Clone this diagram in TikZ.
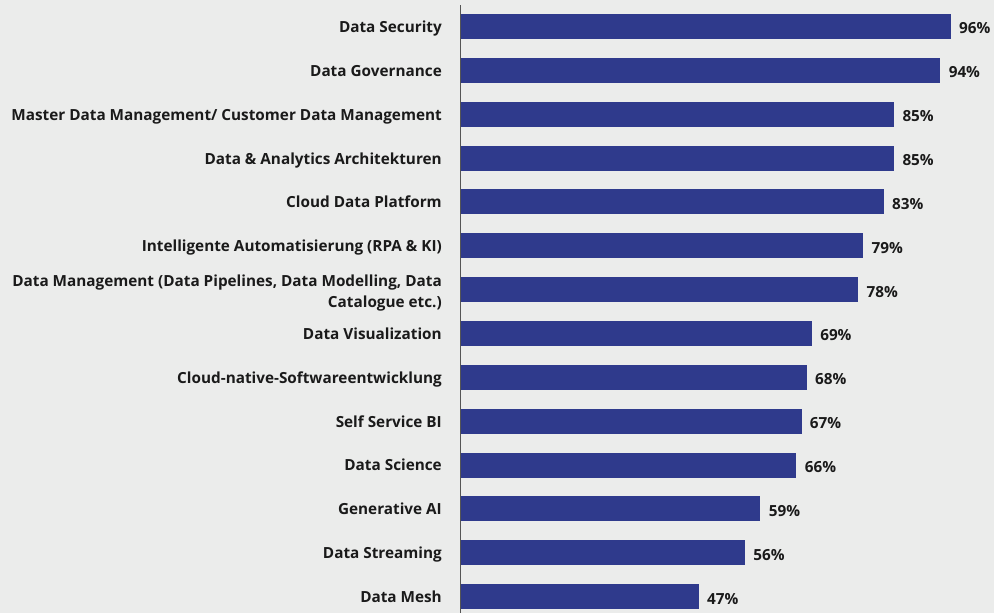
\documentclass[tikz,border=0pt]{standalone}
\usepackage{fontspec}
\setmainfont{Open Sans}
\definecolor{bgc}{HTML}{EBECEB}
\definecolor{barc}{HTML}{2F3A8C}
\definecolor{txtc}{HTML}{1A1A1A}
\definecolor{axc}{HTML}{555555}
\begin{document}
\begin{tikzpicture}[x=1pt,y=-1pt,
  lbl/.style={anchor=east, font=\fontsize{15.3}{21}\selectfont\bfseries, text=txtc, inner sep=0pt, text height=10.9pt, text depth=0pt},
  lbltwo/.style={anchor=east, font=\fontsize{15.3}{21}\selectfont\bfseries, text=txtc, inner sep=0pt, align=right},
  pct/.style={anchor=west, font=\fontsize{15.3}{17}\selectfont\bfseries, text=txtc, inner sep=0pt, text height=10.9pt, text depth=0pt, xshift=8pt, yshift=-2pt},
  barbox/.style={fill=barc, draw=none, inner sep=0pt, minimum height=25pt, anchor=west},
  axisline/.style={draw=axc, line width=1pt}]
\fill[bgc] (0,0) rectangle (994,613);
\useasboundingbox (0,0) rectangle (994,613);
\foreach \i/\v/\t in {0/96/{Data Security},1/94/{Data Governance},2/85/{Master Data Management/ Customer Data Management},3/85/{Data \& Analytics Architekturen},4/83/{Cloud Data Platform},5/79/{Intelligente Automatisierung (RPA \& KI)},7/69/{Data Visualization},8/68/{Cloud-native-Softwareentwicklung},9/67/{Self Service BI},10/66/{Data Science},11/59/{Generative AI},12/56/{Data Streaming},13/47/{Data Mesh}}{
  \pgfmathsetmacro{\yc}{26.5+43.85*\i}
  \pgfmathsetmacro{\w}{5.14*\v-3}
  \node[barbox, minimum width=\w pt] (b\i) at (460,\yc) {};
  \node[lbl] (l\i) at (442,\yc+0.5) {\t};
  \node[pct] (p\i) at (b\i.east) {\v\%};
}
\pgfmathsetmacro{\yc}{26.5+43.85*6}
\pgfmathsetmacro{\w}{5.14*78-3}
\node[barbox, minimum width=\w pt] (b6) at (460,\yc) {};
\node[lbltwo] (l6) at (442,\yc+3.5) {Data Management (Data Pipelines, Data Modelling, Data\\Catalogue etc.)};
\node[pct] (p6) at (b6.east) {78\%};
\coordinate (axtop) at (460,5);
\coordinate (axbot) at (460,613);
\draw[axisline] (axtop) -- (axbot);
\end{tikzpicture}
\end{document}
